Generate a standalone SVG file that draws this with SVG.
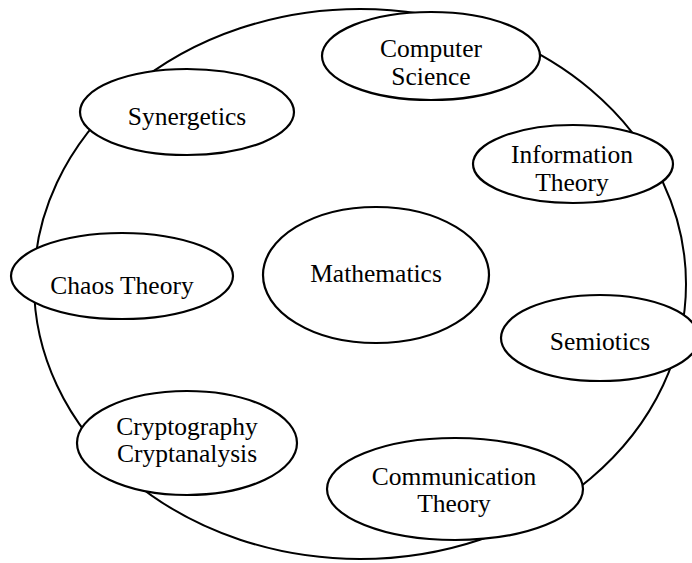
<svg xmlns="http://www.w3.org/2000/svg" width="692" height="563" viewBox="0 0 692 563">
<style>
.bg{fill:#ffffff}
.outer{fill:none;stroke:#000;stroke-width:2}
.node ellipse{fill:#ffffff;stroke:#000;stroke-width:2.2}
.node text{font-family:"Liberation Serif","Times New Roman",serif;font-size:25.5px;fill:#000;text-anchor:middle}
</style>
<rect class="bg" x="0" y="0" width="692" height="563"/>
<g id="connectors">
<ellipse class="outer" cx="360" cy="284" rx="326" ry="275"/>
</g>
<g id="synergetics" class="node">
<ellipse cx="187" cy="112" rx="107" ry="43"/>
<text x="187" y="125">Synergetics</text>
</g>
<g id="computer-science" class="node">
<ellipse cx="431" cy="56" rx="109" ry="44"/>
<text x="431" y="57">Computer</text>
<text x="431" y="85">Science</text>
</g>
<g id="information-theory" class="node">
<ellipse cx="573" cy="164" rx="100" ry="39"/>
<text x="572" y="163">Information</text>
<text x="572" y="191">Theory</text>
</g>
<g id="chaos-theory" class="node">
<ellipse cx="122" cy="276" rx="111" ry="43"/>
<text x="122" y="294">Chaos Theory</text>
</g>
<g id="mathematics" class="node">
<ellipse cx="376" cy="275" rx="113" ry="68"/>
<text x="376" y="282">Mathematics</text>
</g>
<g id="semiotics" class="node">
<ellipse cx="600" cy="338" rx="99" ry="43"/>
<text x="600" y="350">Semiotics</text>
</g>
<g id="cryptography" class="node">
<ellipse cx="187" cy="443" rx="110" ry="52"/>
<text x="187" y="435">Cryptography</text>
<text x="187" y="462">Cryptanalysis</text>
</g>
<g id="communication-theory" class="node">
<ellipse cx="455" cy="489" rx="128" ry="51"/>
<text x="454" y="485">Communication</text>
<text x="454" y="512">Theory</text>
</g>
</svg>
